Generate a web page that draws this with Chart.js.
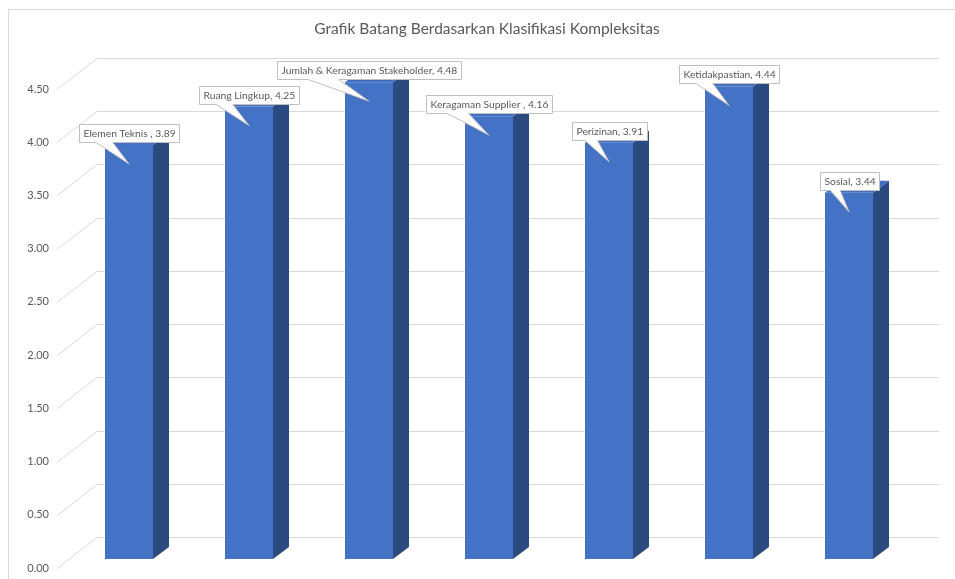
<!DOCTYPE html>
<html>
<head>
<meta charset="utf-8">
<script src="https://cdn.jsdelivr.net/npm/chart.js@4.4.1/dist/chart.umd.min.js"></script>
<style>
  html, body { margin: 0; padding: 0; background: #fff; }
  #wrap { width: 955px; height: 579px; position: relative; }
</style>
</head>
<body>
<div id="wrap"><canvas id="complexityChart"></canvas></div>
<script>
const categories = ['Elemen Teknis ', 'Ruang Lingkup', 'Jumlah & Keragaman Stakeholder', 'Keragaman Supplier ', 'Perizinan', 'Ketidakpastian', 'Sosial'];
const scores = [3.89, 4.25, 4.48, 4.16, 3.91, 4.44, 3.44];
const yMin = 0;
const yMax = 4.5;
const yStep = 0.5;

const FONT = 'Lato, Carlito, Calibri, sans-serif';
const TEXT_GREY = '#595959';
const GRID_GREY = '#d9d9d9';

// depth of the fake 3d view
const BAR_SHIFT = { x: 12, y: -9 };   // front plane -> bar plane
const WALL_SHIFT = { x: 40, y: -31 }; // front plane -> back wall
const BAR_DEPTH = { x: 16, y: -12 };

const pseudo3d = {
    id: 'pseudo3d',
    beforeDraw(chart) {
        const ctx = chart.ctx;
        ctx.save();
        ctx.fillStyle = '#fff';
        ctx.fillRect(0, 0, chart.width, chart.height);
        ctx.strokeStyle = GRID_GREY;
        ctx.lineWidth = 1;
        ctx.strokeRect(8.5, 9.5, chart.width + 20, chart.height + 20);
        ctx.restore();
    },
    beforeDatasetsDraw(chart) {
        const ctx = chart.ctx;
        const area = chart.chartArea;
        const y = chart.scales.y;
        ctx.save();
        ctx.strokeStyle = GRID_GREY;
        ctx.lineWidth = 1;
        y.ticks.forEach(t => {
            const py = Math.round(y.getPixelForValue(t.value)) + 0.5;
            ctx.beginPath();
            ctx.moveTo(area.left, py);
            ctx.lineTo(area.left + WALL_SHIFT.x, py + WALL_SHIFT.y);
            ctx.lineTo(area.right + WALL_SHIFT.x + 2, py + WALL_SHIFT.y);
            ctx.stroke();
        });
        ctx.restore();
        // bars sit a bit behind the front plane
        ctx.save();
        ctx.translate(BAR_SHIFT.x, BAR_SHIFT.y);
    },
    afterDatasetsDraw(chart) {
        const ctx = chart.ctx;
        const meta = chart.getDatasetMeta(0);
        meta.data.forEach(bar => {
            const l = bar.x - bar.width / 2;
            const r = bar.x + bar.width / 2;
            const top = bar.y;
            const base = bar.base;
            // side face
            ctx.fillStyle = '#2b4a80';
            ctx.beginPath();
            ctx.moveTo(r, top);
            ctx.lineTo(r + BAR_DEPTH.x, top + BAR_DEPTH.y);
            ctx.lineTo(r + BAR_DEPTH.x, base + BAR_DEPTH.y);
            ctx.lineTo(r, base);
            ctx.closePath();
            ctx.fill();
            // top face
            ctx.fillStyle = '#4370c2';
            ctx.beginPath();
            ctx.moveTo(l, top);
            ctx.lineTo(l + BAR_DEPTH.x, top + BAR_DEPTH.y);
            ctx.lineTo(r + BAR_DEPTH.x, top + BAR_DEPTH.y);
            ctx.lineTo(r, top);
            ctx.closePath();
            ctx.fill();
        });

        // callout labels
        ctx.font = '10.3px ' + FONT;
        ctx.textBaseline = 'middle';
        ctx.textAlign = 'left';
        meta.data.forEach((bar, i) => {
            const text = categories[i] + ', ' + scores[i].toFixed(2);
            const w = Math.round(ctx.measureText(text).width) + 8;
            const h = 18;
            const bx = Math.round(bar.x - w / 2) + 0.5;
            const by = Math.round(bar.y - 3 - h) + 0.5;
            const tipX = bar.x;
            const tipY = bar.y + 19;
            const b1 = bx + w / 6;
            const b2 = bx + w / 3;
            ctx.beginPath();
            ctx.moveTo(bx, by);
            ctx.lineTo(bx + w, by);
            ctx.lineTo(bx + w, by + h);
            ctx.lineTo(b2, by + h);
            ctx.lineTo(tipX, tipY);
            ctx.lineTo(b1, by + h);
            ctx.lineTo(bx, by + h);
            ctx.closePath();
            ctx.fillStyle = '#fff';
            ctx.fill();
            ctx.strokeStyle = '#bfbfbf';
            ctx.lineWidth = 1;
            ctx.stroke();
            ctx.fillStyle = TEXT_GREY;
            ctx.fillText(text, bx + 4, by + h / 2 + 0.5);
        });
        ctx.restore();
    }
};

const ctx = document.getElementById('complexityChart').getContext('2d');
const complexityChart = new Chart(ctx, {
    type: 'bar',
    data: {
        labels: categories,
        datasets: [{
            data: scores,
            backgroundColor: '#4472c4',
            borderWidth: 0,
            barPercentage: 0.4,
            categoryPercentage: 1.0,
            clip: false
        }]
    },
    options: {
        responsive: true,
        maintainAspectRatio: false,
        animation: false,
        layout: {
            autoPadding: false,
            padding: { top: 0, left: 19, right: 0, bottom: 11 }
        },
        plugins: {
            legend: { display: false },
            tooltip: { enabled: false },
            title: {
                display: true,
                text: 'Grafik Batang Berdasarkan Klasifikasi Kompleksitas',
                color: TEXT_GREY,
                font: { family: FONT, size: 15.5, weight: 'normal', lineHeight: 1.2 },
                padding: { top: 20, bottom: 50.4 }
            }
        },
        scales: {
            x: { display: false },
            y: {
                min: yMin,
                max: yMax,
                afterFit(scale) { scale.width = 38; },
                // gap between labels and the front edge comes from tickLength,
                // so the label padding does not eat into the plot height
                grid: { display: false, drawTicks: true, tickLength: 8 },
                border: { display: false },
                ticks: {
                    stepSize: yStep,
                    padding: 0,
                    color: TEXT_GREY,
                    font: { family: FONT, size: 11 },
                    callback: v => v.toFixed(2)
                }
            },
            // empty right-hand axis keeps room for the back wall
            yRight: {
                position: 'right',
                min: yMin,
                max: yMax,
                afterFit(scale) { scale.width = 58; },
                grid: { display: false, drawTicks: false },
                border: { display: false },
                ticks: { display: false, padding: 0 }
            }
        }
    },
    plugins: [pseudo3d]
});
</script>
</body>
</html>
